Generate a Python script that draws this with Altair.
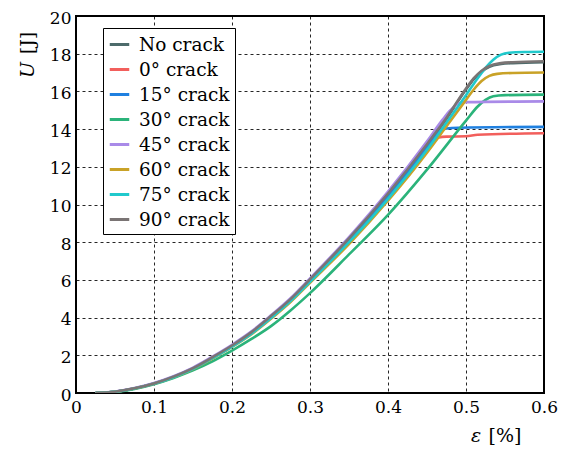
import altair as alt
import pandas as pd

names = ["No crack", "0° crack", "15° crack", "30° crack", "45° crack", "60° crack", "75° crack", "90° crack"]
colors = ["#4d6b6b", "#f25f5c", "#1f80e0", "#2bb37a", "#a98ae8", "#c9a227", "#20c9cc", "#7a7474"]

eps_base = [0.025, 0.05, 0.075, 0.10, 0.125, 0.15, 0.175, 0.20, 0.225, 0.25, 0.275, 0.30, 0.35, 0.40, 0.45]

nocrack_eps = eps_base + [0.475, 0.50, 0.51, 0.52, 0.53, 0.545, 0.56, 0.60]
nocrack_U = [0, 0.07, 0.24, 0.50, 0.85, 1.30, 1.88, 2.50, 3.20, 4.05, 4.95, 6.00, 8.15, 10.50, 13.10,
             14.55, 16.10, 16.65, 17.05, 17.30, 17.45, 17.50, 17.55]

c0_eps = eps_base + [0.457, 0.465, 0.475, 0.50, 0.515, 0.60]
c0_U = [0, 0.07, 0.24, 0.50, 0.85, 1.30, 1.87, 2.49, 3.19, 4.03, 4.93, 5.97, 8.10, 10.45, 13.00,
        13.35, 13.55, 13.60, 13.62, 13.70, 13.78]

c15_eps = eps_base + [0.46, 0.467, 0.475, 0.49, 0.60]
c15_U = [0, 0.07, 0.24, 0.50, 0.85, 1.30, 1.87, 2.49, 3.19, 4.03, 4.93, 5.97, 8.10, 10.45, 13.05,
         13.60, 13.90, 14.03, 14.07, 14.12]

c30_eps = eps_base + [0.50, 0.515, 0.525, 0.535, 0.55, 0.60]
c30_U = [0, 0.06, 0.22, 0.47, 0.80, 1.20, 1.68, 2.25, 2.87, 3.55, 4.38, 5.30, 7.35, 9.45, 11.85,
         14.45, 15.20, 15.55, 15.74, 15.80, 15.83]

c45_eps = eps_base + [0.47, 0.48, 0.49, 0.50, 0.60]
c45_U = [0, 0.08, 0.26, 0.53, 0.89, 1.35, 1.93, 2.56, 3.27, 4.12, 5.03, 6.08, 8.27, 10.68, 13.35,
         14.50, 15.00, 15.35, 15.43, 15.47]

c60_eps = eps_base + [0.475, 0.50, 0.51, 0.52, 0.53, 0.54, 0.56, 0.60]
c60_U = [0, 0.07, 0.24, 0.49, 0.83, 1.27, 1.83, 2.44, 3.12, 3.94, 4.83, 5.85, 7.90, 10.20, 12.75,
         14.15, 15.55, 16.10, 16.55, 16.82, 16.93, 16.98, 17.00]

c75_eps = eps_base + [0.475, 0.50, 0.515, 0.525, 0.535, 0.545, 0.555, 0.575, 0.60]
c75_U = [0, 0.07, 0.24, 0.49, 0.84, 1.28, 1.85, 2.46, 3.15, 3.98, 4.88, 5.90, 8.00, 10.30, 12.90,
         14.35, 15.80, 16.70, 17.25, 17.68, 17.95, 18.05, 18.09, 18.10]

c90_eps = eps_base + [0.475, 0.50, 0.51, 0.52, 0.53, 0.545, 0.56, 0.60]
c90_U = [0, 0.07, 0.25, 0.51, 0.87, 1.32, 1.90, 2.52, 3.23, 4.08, 4.98, 6.03, 8.20, 10.58, 13.20,
         14.60, 16.15, 16.70, 17.10, 17.35, 17.50, 17.55, 17.60]

all_eps = [nocrack_eps, c0_eps, c15_eps, c30_eps, c45_eps, c60_eps, c75_eps, c90_eps]
all_U = [nocrack_U, c0_U, c15_U, c30_U, c45_U, c60_U, c75_U, c90_U]

x_ticks = [0, 0.1, 0.2, 0.3, 0.4, 0.5, 0.6]
y_ticks = [0, 2, 4, 6, 8, 10, 12, 14, 16, 18, 20]

rows = []
for k, (name, xs, ys) in enumerate(zip(names, all_eps, all_U)):
    for x, y in zip(xs, ys):
        rows.append({"series": name, "eps": x, "U": y, "k": k})
df = pd.DataFrame(rows)

FONT = "DejaVu Serif"

lines = alt.Chart(df).mark_line(strokeWidth=2.6, clip=True, interpolate="monotone").encode(
    x=alt.X("eps:Q", scale=alt.Scale(domain=[0, 0.6], nice=False, zero=False),
            axis=alt.Axis(values=x_ticks, title=None, labelFlush=False,
                          labelExpr="datum.value == 0 ? '0' : format(datum.value, '.1f')")),
    y=alt.Y("U:Q", scale=alt.Scale(domain=[0, 20], nice=False),
            axis=alt.Axis(values=y_ticks, title=None, format="d", labelOffset=2, labelFlush=False)),
    color=alt.Color("series:N", sort=names,
                    scale=alt.Scale(domain=names, range=colors),
                    legend=alt.Legend(title=None, orient="none", legendX=27, legendY=12,
                                      strokeColor="black", fillColor="white", padding=5,
                                      symbolType="stroke", symbolStrokeWidth=3, symbolSize=380,
                                      labelFont=FONT, labelFontSize=18.5, labelColor="black",
                                      rowPadding=4, labelOffset=8, cornerRadius=0)),
    detail="series:N",
)

ylab1 = alt.Chart(pd.DataFrame({"t": ["U"]})).mark_text(
    font=FONT, fontSize=19, fontStyle="italic", angle=270, color="black"
).encode(text="t:N", x=alt.value(-48), y=alt.value(54))
ylab2 = alt.Chart(pd.DataFrame({"t": ["[J]"]})).mark_text(
    font=FONT, fontSize=19, angle=270, color="black"
).encode(text="t:N", x=alt.value(-48), y=alt.value(27))
xlab1 = alt.Chart(pd.DataFrame({"t": ["ε"]})).mark_text(
    font=FONT, fontSize=19, fontStyle="italic", color="black"
).encode(text="t:N", x=alt.value(400), y=alt.value(420))
xlab2 = alt.Chart(pd.DataFrame({"t": ["[%]"]})).mark_text(
    font=FONT, fontSize=19, color="black"
).encode(text="t:N", x=alt.value(429), y=alt.value(420))

chart = alt.layer(lines, ylab1, ylab2, xlab1, xlab2).properties(
    width=468, height=377,
    autosize=alt.AutoSizeParams(type="none"),
    padding={"left": 68, "top": 8, "right": 14, "bottom": 57},
).configure_view(
    stroke="black", strokeWidth=2
).configure_axis(
    domain=False, ticks=False, grid=True, gridColor="black", gridDash=[3, 3],
    gridWidth=1, gridOpacity=0.85, labelFont=FONT, labelFontSize=17, labelColor="black",
    labelPadding=5
).configure_axisX(labelPadding=6)

chart.save("out.html", embed_options={"renderer": "svg", "actions": False})
